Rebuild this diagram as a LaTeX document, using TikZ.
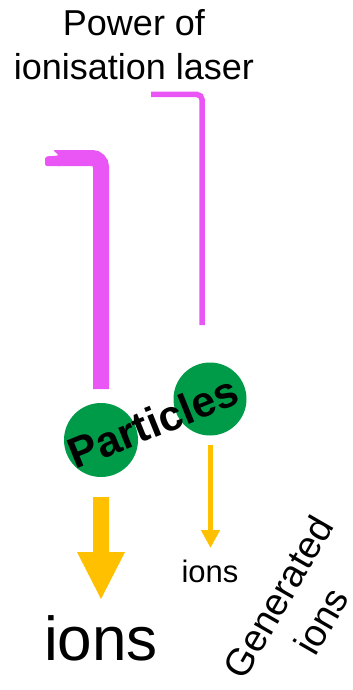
\documentclass[tikz,border=0pt]{standalone}
\usepackage{fontspec}
\setmainfont{Liberation Sans}
\usetikzlibrary{arrows.meta}
\definecolor{laser}{RGB}{234,85,245}
\definecolor{partgreen}{RGB}{0,155,72}
\definecolor{ionyellow}{RGB}{255,192,0}
\begin{document}
\begin{tikzpicture}[x=1pt,y=-1pt,
  lbl/.style={inner sep=0pt,align=center},
  particle/.style={circle,fill=partgreen,minimum size=74pt,inner sep=0pt}]
\useasboundingbox (0,0) rectangle (353,690);
% title
\node[lbl,font=\fontsize{36}{44}\selectfont] (title) at (134,45) {Power of\\ionisation laser};
% thin laser line
\coordinate (t1) at (151,94.5);
\coordinate (t2) at (202,94.5);
\coordinate (t3) at (202,325);
\draw[laser,line width=5.5pt,rounded corners=5pt] (t1) -- (t2) -- (t3);
% thick laser line
\coordinate (k2) at (101,158);
\coordinate (k3) at (101,389);
\draw[laser,line width=16pt,rounded corners=9pt] (58,158) -- (k2) -- (k3);
\fill[laser,rounded corners=2pt] (53,150) -- (59,155.5) -- (45,156.5) -- (45,166) -- (62,166) -- (62,150) -- cycle;
% particles
\node[particle] (p1) at (101,440) {};
\node[particle,minimum size=73pt] (p2) at (210,399) {};
\node[lbl,rotate=22,font=\fontsize{43}{50}\bfseries\selectfont] (ptxt) at (153,422) {Particles};
% thick ion arrow
\fill[ionyellow] (93,497) -- (109,497) -- (109,552) -- (125,552) -- (101,599) -- (77,552) -- (93,552) -- cycle;
% thin ion arrow
\coordinate (a1) at (210.5,445);
\coordinate (a2) at (210.5,548);
\draw[ionyellow,line width=5pt,-{Triangle[length=18pt,width=18pt]}] (a1) -- (a2);
\node[lbl,font=\fontsize{31}{36}\selectfont] (ions1) at (210,571) {ions};
\node[lbl,font=\fontsize{62}{72}\selectfont] (ions2) at (101,638) {ions};
\node[lbl,rotate=60,font=\fontsize{38}{46}\selectfont] (gen1) at (278,597) {Generated};
\node[lbl,rotate=60,font=\fontsize{38}{46}\selectfont] (gen2) at (321,621) {ions};
\end{tikzpicture}
\end{document}
